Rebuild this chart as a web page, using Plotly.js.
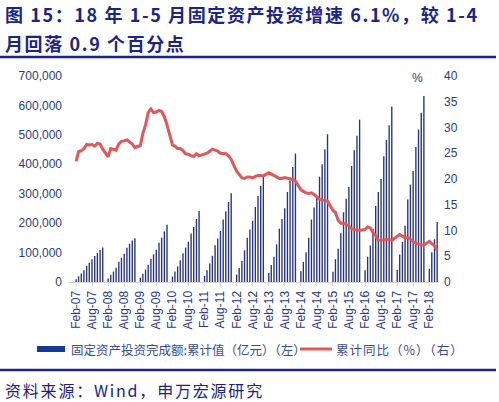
<!DOCTYPE html>
<html><head><meta charset="utf-8">
<script src="https://cdn.plot.ly/plotly-3.0.1.min.js"></script>
<style>html,body{margin:0;padding:0;background:#fff;}#chart{width:499px;height:402px;}</style>
</head><body><div id="chart"></div>
<script>
// Reporting periods: cumulative data published for Feb..Dec each year (Jan merged into Feb)
const years = [2007,2008,2009,2010,2011,2012,2013,2014,2015,2016,2017,2018];
const reportedMonths = [2,3,4,5,6,7,8,9,10,11,12];
const lastYearMonths = [2,3,4,5];

// 固定资产投资完成额:累计值（亿元）
const faiCumulative = [
  9557, 19496, 29179, 40138, 54880, 65787, 76926, 88455, 98900, 108900, 117464,      // 2007
  11585, 24303, 35510, 48829, 68404, 82000, 96000, 116535, 129800, 141000, 148738,   // 2008
  14576, 28129, 42000, 59000, 78098, 94000, 110000, 133377, 150700, 172000, 194139,  // 2009
  18453, 35555, 53000, 74000, 98047, 117000, 137000, 165046, 187000, 214000, 241415, // 2010
  21000, 40000, 63000, 89000, 124567, 148000, 173600, 212274, 240000, 272000, 301933,// 2011
  25379, 47866, 71591, 107600, 150710, 178700, 207934, 255000, 292000, 326000, 364835,// 2012
  30765, 57871, 86000, 128023, 181318, 214000, 251000, 306000, 345000, 391000, 436528,// 2013
  36202, 68322, 101000, 150000, 212400, 253000, 292000, 358000, 400000, 451000, 502005,// 2014
  34477, 77511, 112707, 166000, 237132, 283000, 323000, 394531, 447425, 497000, 551590,// 2015
  39694, 85843, 124000, 181000, 258360, 306000, 350000, 426906, 483000, 533000, 596501,// 2016
  41378, 93777, 136000, 191000, 280605, 331000, 377000, 458478, 518000, 575000, 631684,// 2017
  44805, 100763, 145026, 203967                                                          // 2018
];

// 累计同比（%）
const faiYoY = [
  23.4, 25.3, 25.5, 25.9, 26.7, 26.6, 26.7, 26.4, 26.9, 26.8, 25.8, // 2007
  24.3, 25.9, 25.7, 25.6, 26.8, 27.3, 27.4, 27.6, 27.2, 26.8, 26.1, // 2008
  26.5, 28.8, 30.5, 32.9, 33.6, 32.9, 33.0, 33.3, 33.1, 32.1, 30.5, // 2009
  26.6, 26.4, 25.9, 25.9, 25.5, 24.9, 24.8, 24.5, 24.4, 24.9, 24.5, // 2010
  24.9, 25.0, 25.4, 25.8, 25.6, 25.4, 25.0, 24.9, 24.9, 24.5, 23.8, // 2011
  21.5, 20.9, 20.2, 20.1, 20.4, 20.4, 20.2, 20.5, 20.7, 20.7, 20.6, // 2012
  21.2, 20.9, 20.6, 20.4, 20.1, 20.1, 20.3, 20.2, 20.1, 19.9, 19.6, // 2013
  17.9, 17.6, 17.3, 17.2, 17.3, 17.0, 16.5, 16.1, 15.9, 15.8, 15.7, // 2014
  13.9, 13.5, 12.0, 11.4, 11.4, 11.2, 10.9, 10.3, 10.2, 10.2, 10.0, // 2015
  10.2, 10.7, 10.5, 9.6, 9.0, 8.1, 8.1, 8.2, 8.3, 8.3, 8.1,         // 2016
  8.9, 9.2, 8.9, 8.6, 8.6, 8.3, 7.8, 7.5, 7.3, 7.2, 7.2,            // 2017
  7.9, 7.5, 7.0, 6.1                                                // 2018
];

const tickLabels = ['Feb-07','Aug-07','Feb-08','Aug-08','Feb-09','Aug-09','Feb-10','Aug-10',
  'Feb-11','Aug-11','Feb-12','Aug-12','Feb-13','Aug-13','Feb-14','Aug-14','Feb-15','Aug-15',
  'Feb-16','Aug-16','Feb-17','Aug-17','Feb-18'];
const tickDates = ['2007-02-01','2007-08-01','2008-02-01','2008-08-01','2009-02-01','2009-08-01',
  '2010-02-01','2010-08-01','2011-02-01','2011-08-01','2012-02-01','2012-08-01','2013-02-01',
  '2013-08-01','2014-02-01','2014-08-01','2015-02-01','2015-08-01','2016-02-01','2016-08-01',
  '2017-02-01','2017-08-01','2018-02-01'];

const periods = [];
years.forEach(function(y){
  const ms = (y === 2018) ? lastYearMonths : reportedMonths;
  ms.forEach(function(m){ periods.push(y + '-' + (m < 10 ? '0' + m : m) + '-01'); });
});

const W = 499, H = 402, ML = 68, MR = 60, MT = 76, MB = 120;
const PW = W - ML - MR, PH = H - MT - MB;
function px(x){ return (x - ML) / PW; }
function py(y){ return (H - MB - y) / PH; }

const navy = '#1b2585';
const tickCol = '#2f3c74';
const fontSans = 'Liberation Sans, Arial, sans-serif';
const fontCJK = 'Noto Sans CJK SC, sans-serif';

const traces = [
  {
    type: 'bar', x: periods, y: faiCumulative, yaxis: 'y',
    width: 1.35e9,
    marker: {color: '#27357a', line: {width: 0}},
    showlegend: false, hoverinfo: 'x+y'
  },
  {
    type: 'scatter', mode: 'lines', x: periods, y: faiYoY, yaxis: 'y2',
    line: {color: '#e0585a', width: 3},
    showlegend: false, hoverinfo: 'x+y'
  }
];

// letter spacing (px) per annotation, applied after drawing
const spacing = [1.6, 1.6, 0, 0, 1.0, 1.8];

const layout = {
  width: W, height: H,
  margin: {l: ML, r: MR, t: MT, b: MB, pad: 0},
  paper_bgcolor: '#ffffff', plot_bgcolor: '#ffffff',
  showlegend: false,
  xaxis: {
    type: 'date', range: ['2006-11-01', '2018-05-22'],
    tickmode: 'array', tickvals: tickDates, ticktext: tickLabels,
    tickangle: -90, tickfont: {family: fontSans, size: 12, color: '#2a3a86'},
    showgrid: false, zeroline: false,
    showline: true, linecolor: '#d6d6d6', linewidth: 1,
    ticks: 'outside', ticklen: 3, tickcolor: '#d6d6d6'
  },
  yaxis: {
    range: [0, 700000], dtick: 100000, tickformat: ',d',
    tickfont: {family: fontSans, size: 12, color: tickCol},
    showgrid: false, zeroline: false, showline: false, ticks: '',
    ticklabelstandoff: 5
  },
  yaxis2: {
    overlaying: 'y', side: 'right', range: [0, 40], dtick: 5,
    tickfont: {family: fontSans, size: 12, color: tickCol},
    showgrid: false, zeroline: false, showline: false, ticks: '',
    ticklabelstandoff: 4
  },
  annotations: [
    {xref: 'paper', yref: 'paper', x: px(3), y: py(14), xanchor: 'left', yanchor: 'middle', showarrow: false,
     text: '<b>图 15：18 年 1-5 月固定资产投资增速 6.1%，较 1-4</b>',
     font: {family: fontCJK, size: 18, color: navy}},
    {xref: 'paper', yref: 'paper', x: px(3), y: py(43), xanchor: 'left', yanchor: 'middle', showarrow: false,
     text: '<b>月回落 0.9 个百分点</b>',
     font: {family: fontCJK, size: 18, color: navy}},
    {xref: 'paper', yref: 'paper', x: px(417), y: py(78), xanchor: 'center', yanchor: 'middle', showarrow: false,
     text: '%', font: {family: fontSans, size: 12, color: tickCol}},
    {xref: 'paper', yref: 'paper', x: px(69), y: py(349), xanchor: 'left', yanchor: 'middle', showarrow: false,
     text: '固定资产投资完成额:累计值（亿元）（左）', font: {family: fontCJK, size: 12.5, color: '#3a4a8c'}},
    {xref: 'paper', yref: 'paper', x: px(334), y: py(349), xanchor: 'left', yanchor: 'middle', showarrow: false,
     text: '累计同比（%）（右）', font: {family: fontCJK, size: 12.5, color: '#3a4a8c'}},
    {xref: 'paper', yref: 'paper', x: px(3), y: py(390), xanchor: 'left', yanchor: 'middle', showarrow: false,
     text: '资料来源：Wind，申万宏源研究', font: {family: fontCJK, size: 16, color: '#1a237e'}}
  ],
  shapes: [
    {type: 'line', xref: 'paper', yref: 'paper', x0: px(0), x1: px(496), y0: py(57), y1: py(57),
     line: {color: navy, width: 2.5}},
    {type: 'line', xref: 'paper', yref: 'paper', x0: px(0), x1: px(496), y0: py(370), y1: py(370),
     line: {color: navy, width: 2.5}},
    {type: 'rect', xref: 'paper', yref: 'paper', x0: px(37), x1: px(65), y0: py(346), y1: py(352),
     fillcolor: '#163793', line: {width: 0}},
    {type: 'line', xref: 'paper', yref: 'paper', x0: px(300), x1: px(332), y0: py(349), y1: py(349),
     line: {color: '#e0585a', width: 3}}
  ]
};

Plotly.newPlot('chart', traces, layout, {staticPlot: true, displayModeBar: false}).then(function(gd){
  const texts = gd.querySelectorAll('g.annotation text.annotation-text');
  texts.forEach(function(t, i){
    if (!spacing[i]) return;
    const before = t.getBBox().x;
    t.style.letterSpacing = spacing[i] + 'px';
    const after = t.getBBox().x;
    const x0 = parseFloat(t.getAttribute('x')) || 0;
    t.setAttribute('x', x0 + (before - after));
  });
});
</script>
</body></html>
